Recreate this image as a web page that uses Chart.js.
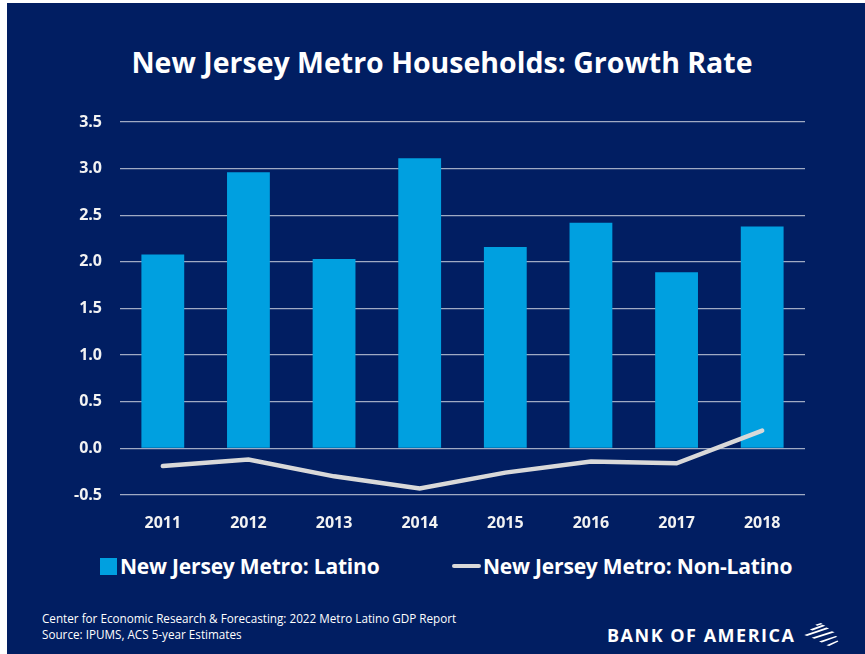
<!DOCTYPE html>
<html>
<head>
<meta charset="utf-8">
<script src="https://cdn.jsdelivr.net/npm/chart.js@4"></script>
<style>
    body { margin: 0; width: 865px; height: 654px; background: #fff; overflow: hidden; font-family: 'Open Sans', sans-serif; }
    #frame { position: absolute; left: 7px; top: 3px; width: 858px; height: 651px; background: #011e62; }
    #title { position: absolute; left: 0; top: 40px; width: 870px; text-align: center; color: #fff; font-size: 28.5px; font-weight: bold; white-space: nowrap; }
    #wrap { position: absolute; left: 0; top: 0; width: 858px; height: 540px; }
    .legend-item { position: absolute; top: 550px; height: 26px; display: flex; align-items: center; color: #fff; font-size: 21px; font-weight: bold; letter-spacing: -0.2px; white-space: nowrap; }
    .swatch-bar { width: 17px; height: 17px; background: #00a0e0; margin-right: 3px; }
    .swatch-line { width: 29px; height: 4px; border-radius: 2px; background: #d9d9d9; margin-right: 2px; }
    .footer { position: absolute; left: 35px; color: #fff; font-size: 11.7px; white-space: nowrap; }
    #logo { position: absolute; left: 600px; top: 620px; color: #fff; font-size: 18px; font-weight: bold; letter-spacing: 1.5px; white-space: nowrap; display: flex; align-items: center; }
</style>
</head>
<body>
<div id="frame">
    <div id="title">New Jersey Metro Households: Growth Rate</div>
    <div id="wrap"><canvas id="chart"></canvas></div>

    <div class="legend-item" style="left: 93px;"><div class="swatch-bar"></div>New Jersey Metro: Latino</div>
    <div class="legend-item" style="left: 445px;"><div class="swatch-line"></div>New Jersey Metro: Non-Latino</div>

    <div class="footer" style="top: 607px;">Center for Economic Research &amp; Forecasting: 2022 Metro Latino GDP Report</div>
    <div class="footer" style="top: 623px;">Source: IPUMS, ACS 5-year Estimates</div>

    <div id="logo">BANK OF AMERICA
        <svg width="42" height="24" viewBox="0 0 44 26" style="margin-left: 3px;">
            <g fill="#fff">
                <polygon points="18,2 24,0 26,1 20,3"/>
                <polygon points="12,7 26,2 29,3 15,8"/>
                <polygon points="6,13 30,5 33,6 9,14"/>
                <polygon points="14,16 36,9 39,10 17,17"/>
                <polygon points="22,20 40,14 42,15 25,21"/>
                <polygon points="30,24 42,19 43,20 33,25"/>
            </g>
        </svg>
    </div>
</div>

<script>
    const years = ['2011', '2012', '2013', '2014', '2015', '2016', '2017', '2018'];
    const latino = [2.08, 2.96, 2.03, 3.11, 2.16, 2.42, 1.89, 2.38];
    const nonLatino = [-0.19, -0.12, -0.30, -0.43, -0.26, -0.14, -0.16, 0.19];
    const yMin = -0.5;
    const yMax = 3.5;
    const yStep = 0.5;

    const fontFamily = "'Open Sans', sans-serif";

    new Chart(document.getElementById('chart'), {
        data: {
            labels: years,
            datasets: [
                {
                    type: 'line',
                    label: 'New Jersey Metro: Non-Latino',
                    data: nonLatino,
                    borderColor: '#d9d9d9',
                    borderWidth: 4.5,
                    borderCapStyle: 'round',
                    pointRadius: 0,
                    tension: 0,
                    order: 0
                },
                {
                    type: 'bar',
                    label: 'New Jersey Metro: Latino',
                    data: latino,
                    backgroundColor: '#00a0e0',
                    categoryPercentage: 1,
                    barPercentage: 0.5,
                    order: 1
                }
            ]
        },
        options: {
            responsive: true,
            maintainAspectRatio: false,
            animation: false,
            // room above the plot is left for the html title
            layout: { padding: { left: 0, right: 60, top: 119, bottom: 0 } },
            plugins: {
                legend: { display: false },
                tooltip: { enabled: false }
            },
            scales: {
                x: {
                    grid: { display: false },
                    border: { display: false },
                    ticks: {
                        color: '#f2f2f2',
                        font: { family: fontFamily, size: 16, weight: 'bold' },
                        padding: 11
                    },
                    afterFit: (scale) => { scale.height = 48; }
                },
                y: {
                    min: yMin,
                    max: yMax,
                    grid: { color: 'rgba(200,205,220,0.8)', lineWidth: 1.3, drawTicks: false },
                    border: { display: false },
                    ticks: {
                        stepSize: yStep,
                        color: '#f2f2f2',
                        font: { family: fontFamily, size: 16, weight: 'bold' },
                        padding: 18,
                        callback: (v) => v.toFixed(1)
                    },
                    afterFit: (scale) => { scale.width = 113; }
                }
            }
        }
    });
</script>
</body>
</html>
